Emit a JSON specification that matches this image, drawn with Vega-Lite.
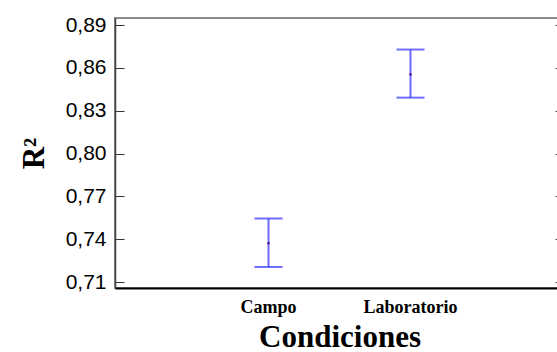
{
  "$schema": "https://vega.github.io/schema/vega-lite/v6.json",
  "autosize": "none",
  "padding": {"left": 115, "top": 18, "right": 0, "bottom": 64},
  "width": 449,
  "height": 270,
  "background": "white",
  "config": {
    "view": {"stroke": "#8a8a8a", "strokeWidth": 2}
  },
  "data": {
    "values": [
      {"cond": "Campo", "lo": 0.7205, "mid": 0.7372, "hi": 0.7545},
      {"cond": "Laboratorio", "lo": 0.8392, "mid": 0.8555, "hi": 0.8729}
    ]
  },
  "resolve": {"axis": {"y": "independent", "x": "independent"}},
  "layer": [
    {
      "mark": {"type": "rule", "color": "#6a6aff", "strokeWidth": 2},
      "encoding": {
        "x": {
          "field": "cond", "type": "nominal", "sort": null,
          "scale": {"type": "band", "paddingInner": 0, "paddingOuter": 0.581, "align": 0.5},
          "axis": {
            "title": "Condiciones", "labelAngle": 0,
            "labelFont": "Liberation Serif", "labelFontWeight": "bold", "labelFontSize": 18, "labelColor": "black",
            "labelPadding": 10, "ticks": false,
            "domainColor": "black", "domainWidth": 2,
            "titleFont": "Liberation Serif", "titleFontWeight": "bold", "titleFontSize": 31, "titleColor": "black",
            "titlePadding": 6
          }
        },
        "y": {
          "field": "lo", "type": "quantitative",
          "scale": {"domain": [0.7058, 0.895], "nice": false, "zero": false},
          "axis": {
            "title": "R²", "values": [0.71, 0.74, 0.77, 0.8, 0.83, 0.86, 0.89],
            "labelExpr": "replace(format(datum.value, '.2f'), '.', ',')",
            "labelFont": "Liberation Sans", "labelFontSize": 21, "labelColor": "black",
            "tickSize": -9, "labelPadding": 18, "tickColor": "#333", "grid": false,
            "domainColor": "#444", "domainWidth": 1.5,
            "titleFont": "Liberation Serif", "titleFontWeight": "bold", "titleFontSize": 31, "titleColor": "black",
            "titlePadding": 15
          }
        },
        "y2": {"field": "hi"}
      }
    },
    {
      "mark": {"type": "tick", "color": "#3030ff", "thickness": 2, "size": 28},
      "encoding": {
        "x": {"field": "cond", "type": "nominal", "sort": null, "axis": null},
        "y": {
          "field": "lo", "type": "quantitative",
          "axis": {"orient": "right", "labels": false, "title": null, "domain": false, "grid": false,
                   "values": [0.71, 0.74, 0.77, 0.8, 0.83, 0.86, 0.89], "tickSize": -9, "tickColor": "#444"}
        }
      }
    },
    {
      "mark": {"type": "tick", "color": "#3030ff", "thickness": 2, "size": 28},
      "encoding": {
        "x": {"field": "cond", "type": "nominal", "sort": null, "axis": null},
        "y": {"field": "hi", "type": "quantitative", "axis": null}
      }
    },
    {
      "mark": {"type": "square", "color": "#50106a", "size": 5, "opacity": 1},
      "encoding": {
        "x": {"field": "cond", "type": "nominal", "sort": null, "axis": null},
        "y": {"field": "mid", "type": "quantitative", "axis": null}
      }
    }
  ]
}
